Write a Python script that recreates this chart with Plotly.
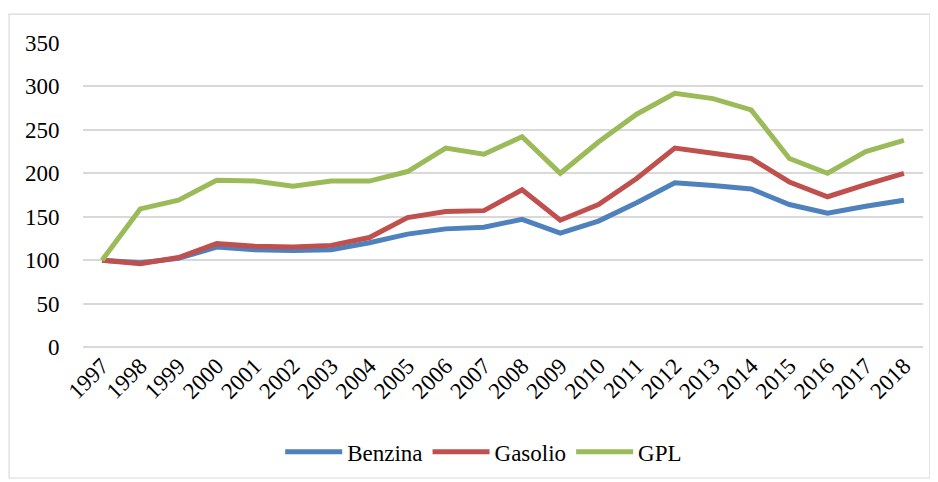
import plotly.graph_objects as go

years = [str(y) for y in range(1997, 2019)]
benzina = [100, 97, 102, 115, 112, 111, 112, 120, 130, 136, 138, 147, 131, 145, 166, 189, 186, 182, 164, 154, 162, 169]
gasolio = [100, 96, 103, 119, 116, 115, 117, 126, 149, 156, 157, 181, 146, 164, 194, 229, 223, 217, 190, 173, 187, 200]
gpl = [100, 159, 169, 192, 191, 185, 191, 191, 202, 229, 222, 242, 200, 236, 268, 292, 286, 273, 217, 200, 225, 238]

series = [("Benzina", benzina, "#4F81BD"), ("Gasolio", gasolio, "#C0504D"), ("GPL", gpl, "#9BBB59")]

font_family = "'Liberation Serif', 'DejaVu Serif', serif"

fig = go.Figure()
for name, vals, color in series:
    fig.add_trace(go.Scatter(x=years, y=vals, name=name, mode="lines",
                             line=dict(color=color, width=5)))

# page body has an 8px default margin, so the figure is sized/offset for it
fig.update_layout(
    width=930, height=474,
    margin=dict(l=75, r=15, t=35, b=135, autoexpand=False),
    paper_bgcolor="white", plot_bgcolor="white",
    font=dict(family=font_family, size=23, color="black"),
    showlegend=True,
    legend=dict(orientation="h", x=0.477, xanchor="center", y=-0.345, yanchor="middle",
                font=dict(family=font_family, size=23), itemwidth=57, tracegroupgap=0),
    xaxis=dict(type="category", range=[-0.5, 21.5], tickangle=-45, showgrid=False,
               showline=False, ticks="", automargin=False,
               tickfont=dict(family=font_family, size=23)),
    yaxis=dict(range=[0, 350], dtick=50, showgrid=True, gridcolor="#d9d9d9", gridwidth=1.5,
               zeroline=True, zerolinecolor="#d9d9d9", zerolinewidth=1.5, automargin=False,
               showline=False, ticks="outside", ticklen=18, tickcolor="rgba(0,0,0,0)",
               tickfont=dict(family=font_family, size=23)),
)

fig.add_shape(type="rect", xref="paper", yref="paper", x0=-0.088, x1=1.0083, y0=-0.431, y1=1.095,
              line=dict(color="#d9d9d9", width=1.2), fillcolor="rgba(0,0,0,0)", layer="below")

fig.write_html("out.html")
